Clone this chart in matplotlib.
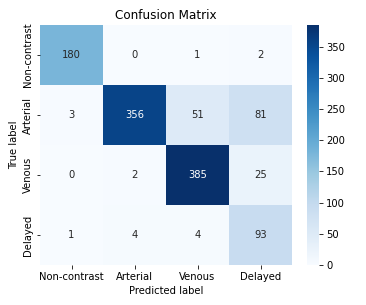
import matplotlib
matplotlib.use("Agg")
import matplotlib.pyplot as plt
import numpy as np

labels = ["Non-contrast", "Arterial", "Venous", "Delayed"]
row0 = [180, 0, 1, 2]
row1 = [3, 356, 51, 81]
row2 = [0, 2, 385, 25]
row3 = [1, 4, 4, 93]

cm = np.array([row0, row1, row2, row3])

fig = plt.figure(figsize=(366/72, 305/72), dpi=72)
ax = fig.add_axes([40/366, 40/305, 252/366, 240/305])
cax = fig.add_axes([307/366, 40/305, 12/366, 240/305])

im = ax.pcolormesh(np.arange(5), np.arange(5), cm, cmap="Blues", vmin=0, vmax=cm.max(),
                   linewidth=0, antialiased=False)
ax.set_xlim(0, 4)
ax.set_ylim(4, 0)
norm = im.norm
for i in range(4):
    for j in range(4):
        v = cm[i, j]
        col = "white" if norm(v) > 0.6 else "#262626"
        ax.text(j + 0.5, i + 0.5, str(v), ha="center", va="center", fontsize=10, color=col)

ax.set_xticks(np.arange(4) + 0.5)
ax.set_xticklabels(labels, fontsize=10)
ax.set_yticks(np.arange(4) + 0.5)
ax.set_yticklabels(labels, fontsize=10, rotation=90, va="center")
for s in ax.spines.values():
    s.set_visible(False)
ax.set_xlabel("Predicted label", fontsize=10)
ax.set_ylabel("True label", fontsize=10)
ax.set_title("Confusion Matrix", fontsize=12)

cb = fig.colorbar(im, cax=cax)
cb.outline.set_visible(False)
cb.set_ticks([0, 50, 100, 150, 200, 250, 300, 350])
cb.ax.tick_params(labelsize=10)

fig.savefig("out.png", dpi=72)
